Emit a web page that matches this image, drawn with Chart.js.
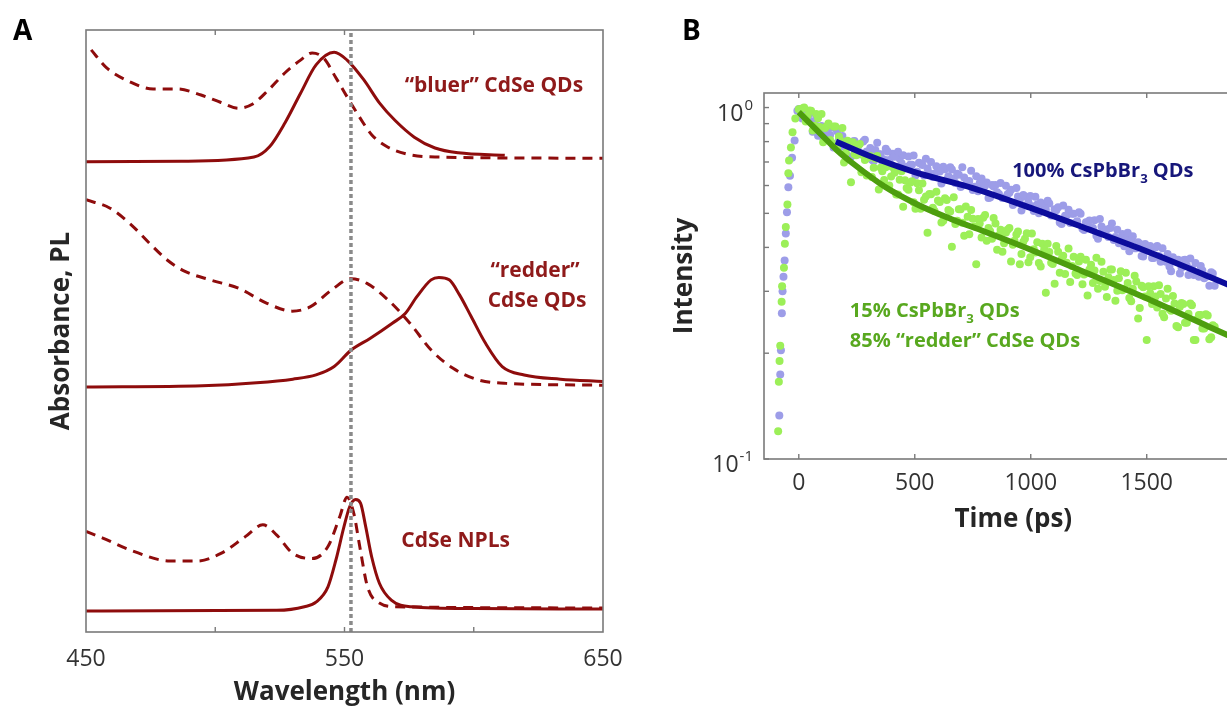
<!DOCTYPE html>
<html>
<head>
<meta charset="utf-8">
<script src="https://cdn.jsdelivr.net/npm/chart.js@4.4.1/dist/chart.umd.min.js"></script>
<style>
  html, body { margin: 0; padding: 0; background: #fff; overflow: hidden; width: 1227px; height: 708px; }
  #wrapA { position: absolute; left: 0; top: 0; }
  #wrapB { position: absolute; left: 660px; top: 0; }
</style>
</head>
<body>
<div id="wrapA"><canvas id="chartA" width="640" height="708"></canvas></div>
<div id="wrapB"><canvas id="chartB" width="640" height="540"></canvas></div>
<script>
// ---------- panel A : spectra (stacked, arbitrary units 0-10) ----------
const wavelengthTicks = [450, 500, 550, 600, 650];
const wavelengthLabels = [450, 550, 650];
const markerWavelength = 552.5;

const bluerAbsNm = [452, 458, 467, 476, 485.5, 494.5, 502, 509, 514.5, 520.5, 527, 533, 537.5, 542, 546.5, 551, 556, 560.5, 566.5, 574, 585, 650];
const bluerAbs   = [9.67, 9.37, 9.14, 9.02, 9.02, 8.92, 8.80, 8.70, 8.77, 9.00, 9.29, 9.50, 9.62, 9.53, 9.22, 8.89, 8.54, 8.26, 8.06, 7.94, 7.89, 7.87];
const bluerPlNm  = [450, 487, 515, 521, 527, 533, 539, 546, 551, 557.5, 563.5, 569.5, 577, 585, 594, 612];
const bluerPl    = [7.81, 7.82, 7.89, 8.06, 8.46, 8.95, 9.42, 9.63, 9.50, 9.17, 8.79, 8.50, 8.22, 8.04, 7.96, 7.92];

const redderAbsNm = [450, 459.3, 467.6, 474.5, 481.4, 488.3, 498, 509, 520, 529.7, 536.7, 545, 552.5, 558.7, 567, 575.3, 583.6, 592, 601.6, 612.6, 650];
const redderAbs   = [7.18, 7.04, 6.76, 6.46, 6.18, 5.99, 5.85, 5.71, 5.46, 5.33, 5.40, 5.68, 5.87, 5.79, 5.51, 5.13, 4.68, 4.38, 4.19, 4.13, 4.10];
const redderPlNm  = [450, 495, 516, 530, 539, 546, 552.5, 560, 568.5, 573.5, 578, 583.5, 586.5, 590.5, 594.5, 599, 604.5, 611, 619.5, 633.5, 650];
const redderPl    = [4.07, 4.09, 4.14, 4.20, 4.27, 4.41, 4.68, 4.88, 5.13, 5.29, 5.57, 5.85, 5.89, 5.85, 5.60, 5.24, 4.80, 4.41, 4.27, 4.20, 4.16];

const nplAbsNm = [450, 456.5, 467.2, 482.5, 493.2, 502.4, 511.5, 518.4, 523.8, 529.9, 537.5, 543.6, 548.2, 551, 553.6, 555.9, 558.9, 563.5, 569.6, 650];
const nplAbs   = [1.67, 1.56, 1.36, 1.18, 1.18, 1.31, 1.58, 1.78, 1.61, 1.31, 1.22, 1.42, 1.92, 2.24, 1.97, 1.42, 0.75, 0.48, 0.42, 0.40];
const nplPlNm  = [450, 523.8, 534.5, 539.1, 543.6, 546.7, 549.8, 552, 554.3, 556.2, 558.2, 560.5, 563.5, 568.1, 575.7, 600.2, 650];
const nplPl    = [0.35, 0.36, 0.42, 0.50, 0.75, 1.20, 1.75, 2.08, 2.20, 2.14, 1.75, 1.25, 0.81, 0.53, 0.42, 0.39, 0.38];

// ---------- panel B : time-resolved PL ----------
const timeTicks = [0, 500, 1000, 1500, 2000];
const intensityTicks = [0.1, 0.2, 0.3, 0.4, 0.5, 0.6, 0.7, 0.8, 0.9, 1];

const blueRiseT = [-84, -80, -77, -73, -70, -66, -61, -56, -51, -45, -38, -29, -18, -6];
const blueRiseI = [0.133, 0.174, 0.204, 0.26, 0.30, 0.33, 0.367, 0.438, 0.504, 0.593, 0.64, 0.72, 0.806, 0.98];
const greenRiseT = [-89, -86, -83, -80, -74, -72, -64, -60, -56, -49, -45, -42, -34, -27, -15];
const greenRiseI = [0.12, 0.166, 0.19, 0.21, 0.28, 0.31, 0.35, 0.41, 0.457, 0.53, 0.65, 0.707, 0.77, 0.85, 0.93];

const decayTimes = [
  0, 15, 30, 45, 60, 75, 90, 105, 120, 135, 150, 165, 180, 195, 210, 225, 240, 255, 270, 285,
  300, 315, 330, 345, 360, 375, 390, 405, 420, 435, 450, 465, 480, 495, 510, 525, 540, 555, 570, 585,
  600, 615, 630, 645, 660, 675, 690, 705, 720, 735, 750, 765, 780, 795, 810, 825, 840, 855, 870, 885,
  900, 915, 930, 945, 960, 975, 990, 1005, 1020, 1035, 1050, 1065, 1080, 1095, 1110, 1125, 1140, 1155, 1170, 1185,
  1200, 1215, 1230, 1245, 1260, 1275, 1290, 1305, 1320, 1335, 1350, 1365, 1380, 1395, 1410, 1425, 1440, 1455, 1470, 1485,
  1500, 1515, 1530, 1545, 1560, 1575, 1590, 1605, 1620, 1635, 1650, 1665, 1680, 1695, 1710, 1725, 1740, 1755, 1770, 1785
];
const decayTimes2 = [
  8, 23, 38, 53, 68, 83, 98, 113, 128, 143, 158, 173, 188, 203, 218, 233, 248, 263, 278, 293,
  308, 323, 338, 353, 368, 383, 398, 413, 428, 443, 458, 473, 488, 503, 518, 533, 548, 563, 578, 593,
  608, 623, 638, 653, 668, 683, 698, 713, 728, 743, 758, 773, 788, 803, 818, 833, 848, 863, 878, 893,
  908, 923, 938, 953, 968, 983, 998, 1013, 1028, 1043, 1058, 1073, 1088, 1103, 1118, 1133, 1148, 1163, 1178, 1193,
  1208, 1223, 1238, 1253, 1268, 1283, 1298, 1313, 1328, 1343, 1358, 1373, 1388, 1403, 1418, 1433, 1448, 1463, 1478, 1493,
  1508, 1523, 1538, 1553, 1568, 1583, 1598, 1613, 1628, 1643, 1658, 1673, 1688, 1703, 1718, 1733, 1748, 1763, 1778, 1793
];
const blueDecay = [
  0.990, 0.931, 0.977, 0.919, 0.854, 0.928, 0.860, 0.820, 0.863, 0.836, 0.770, 0.856, 0.798, 0.774, 0.798, 0.724, 0.803, 0.775, 0.740, 0.810,
  0.745, 0.710, 0.757, 0.737, 0.703, 0.764, 0.709, 0.739, 0.671, 0.715, 0.731, 0.677, 0.687, 0.730, 0.657, 0.693, 0.641, 0.671, 0.700, 0.648,
  0.664, 0.608, 0.668, 0.638, 0.666, 0.610, 0.644, 0.676, 0.604, 0.618, 0.583, 0.638, 0.610, 0.587, 0.612, 0.555, 0.596, 0.574, 0.610, 0.554,
  0.567, 0.584, 0.534, 0.558, 0.509, 0.558, 0.538, 0.524, 0.557, 0.500, 0.531, 0.512, 0.533, 0.494, 0.510, 0.471, 0.526, 0.493, 0.469, 0.499,
  0.475, 0.499, 0.448, 0.472, 0.454, 0.478, 0.423, 0.459, 0.445, 0.428, 0.468, 0.428, 0.411, 0.437, 0.423, 0.390, 0.430, 0.398, 0.410, 0.377,
  0.392, 0.404, 0.373, 0.404, 0.364, 0.371, 0.383, 0.342, 0.368, 0.369, 0.350, 0.369, 0.334, 0.347, 0.361, 0.330, 0.344, 0.331, 0.311, 0.337
];
const blueDecay2 = [
  0.941, 0.988, 0.921, 0.965, 0.908, 0.831, 0.886, 0.845, 0.813, 0.877, 0.778, 0.808, 0.830, 0.735, 0.791, 0.801, 0.757, 0.737, 0.800, 0.750,
  0.767, 0.703, 0.794, 0.737, 0.711, 0.750, 0.687, 0.725, 0.748, 0.694, 0.675, 0.726, 0.687, 0.641, 0.697, 0.686, 0.715, 0.651, 0.634, 0.681,
  0.658, 0.679, 0.623, 0.676, 0.628, 0.648, 0.594, 0.632, 0.616, 0.661, 0.595, 0.578, 0.628, 0.599, 0.553, 0.602, 0.602, 0.568, 0.553, 0.599,
  0.572, 0.528, 0.590, 0.547, 0.564, 0.526, 0.560, 0.508, 0.530, 0.537, 0.511, 0.543, 0.493, 0.514, 0.520, 0.466, 0.492, 0.512, 0.499, 0.470,
  0.504, 0.452, 0.472, 0.477, 0.454, 0.432, 0.482, 0.446, 0.450, 0.454, 0.420, 0.449, 0.420, 0.403, 0.440, 0.419, 0.398, 0.414, 0.378, 0.409,
  0.392, 0.373, 0.400, 0.378, 0.398, 0.364, 0.353, 0.375, 0.368, 0.337, 0.368, 0.355, 0.372, 0.334, 0.338, 0.354, 0.327, 0.331, 0.340, 0.311
];
const greenDecay = [
  0.989, 0.993, 0.912, 0.981, 0.860, 0.959, 0.881, 0.797, 0.884, 0.809, 0.883, 0.763, 0.804, 0.698, 0.805, 0.613, 0.738, 0.781, 0.654, 0.709,
  0.721, 0.634, 0.715, 0.585, 0.659, 0.676, 0.600, 0.676, 0.566, 0.623, 0.522, 0.590, 0.611, 0.538, 0.609, 0.515, 0.547, 0.440, 0.567, 0.508,
  0.544, 0.471, 0.552, 0.511, 0.402, 0.466, 0.514, 0.470, 0.523, 0.436, 0.483, 0.358, 0.468, 0.486, 0.418, 0.445, 0.485, 0.394, 0.449, 0.411,
  0.449, 0.365, 0.418, 0.444, 0.383, 0.423, 0.363, 0.438, 0.387, 0.361, 0.410, 0.297, 0.388, 0.359, 0.404, 0.339, 0.379, 0.362, 0.319, 0.376,
  0.334, 0.376, 0.335, 0.292, 0.357, 0.344, 0.305, 0.364, 0.309, 0.329, 0.346, 0.282, 0.327, 0.302, 0.339, 0.287, 0.305, 0.320, 0.269, 0.308,
  0.218, 0.296, 0.310, 0.270, 0.295, 0.253, 0.305, 0.264, 0.277, 0.237, 0.278, 0.244, 0.259, 0.274, 0.218, 0.257, 0.235, 0.258, 0.219, 0.240
];
const greenDecay2 = [
  0.990, 1.000, 0.949, 0.980, 0.887, 0.932, 0.959, 0.874, 0.901, 0.793, 0.883, 0.827, 0.875, 0.744, 0.797, 0.797, 0.731, 0.788, 0.731, 0.641,
  0.728, 0.674, 0.728, 0.674, 0.622, 0.682, 0.636, 0.652, 0.566, 0.659, 0.621, 0.584, 0.617, 0.515, 0.582, 0.608, 0.558, 0.568, 0.519, 0.576,
  0.539, 0.476, 0.546, 0.506, 0.556, 0.476, 0.514, 0.432, 0.489, 0.511, 0.459, 0.482, 0.427, 0.495, 0.454, 0.423, 0.468, 0.433, 0.389, 0.441,
  0.454, 0.407, 0.435, 0.358, 0.415, 0.439, 0.375, 0.395, 0.414, 0.353, 0.395, 0.410, 0.362, 0.315, 0.389, 0.371, 0.336, 0.397, 0.354, 0.337,
  0.365, 0.314, 0.369, 0.346, 0.317, 0.374, 0.321, 0.341, 0.289, 0.346, 0.323, 0.301, 0.342, 0.305, 0.317, 0.281, 0.332, 0.251, 0.311, 0.290,
  0.310, 0.276, 0.290, 0.312, 0.259, 0.286, 0.267, 0.291, 0.239, 0.271, 0.276, 0.244, 0.277, 0.218, 0.250, 0.257, 0.235, 0.256, 0.222, 0.238
];

const blueFitT = [160, 300, 500, 750, 1000, 1250, 1500, 1770, 2000];
const blueFitI = [0.800, 0.730, 0.655, 0.590, 0.518, 0.450, 0.390, 0.330, 0.285];
const greenFitT = [0, 97, 166, 235, 373, 511, 656, 800, 939, 1215, 1491, 1768, 2000];
const greenFitI = [0.970, 0.838, 0.755, 0.692, 0.594, 0.530, 0.482, 0.444, 0.409, 0.344, 0.288, 0.238, 0.203];

// ---------- styles ----------
const RED = '#8e0c0c';
const RED_TEXT = '#8f1a1a';
const AXIS_GREY = '#7a7a7a';
const TEXT_DARK = '#262626';
const FONT = '"Open Sans", "Noto Sans", sans-serif';

Chart.defaults.font.family = FONT;
Chart.defaults.color = TEXT_DARK;

const pts = (xs, ys) => xs.map((x, i) => ({ x: x, y: ys[i] }));

function spectrum(xs, ys, dashed) {
  return {
    data: pts(xs, ys),
    showLine: true,
    borderColor: RED,
    borderWidth: 3,
    borderDash: dashed ? [10, 7] : [],
    pointRadius: 0,
    cubicInterpolationMode: 'monotone',
    order: 1,
  };
}

function drawFrame(ctx, area) {
  ctx.save();
  ctx.strokeStyle = AXIS_GREY;
  ctx.lineWidth = 1.6;
  ctx.strokeRect(area.left, area.top, area.right - area.left, area.bottom - area.top);
  ctx.restore();
}

function drawRich(ctx, parts, x, y, size, color) {
  ctx.save();
  ctx.fillStyle = color;
  ctx.textBaseline = 'alphabetic';
  ctx.textAlign = 'left';
  let cx = x;
  parts.forEach(([txt, kind]) => {
    const s = kind ? size * 0.66 : size;
    ctx.font = `bold ${s}px ${FONT}`;
    const dy = kind === 'sub' ? size * 0.28 : (kind === 'sup' ? -size * 0.45 : 0);
    ctx.fillText(txt, cx, y + dy);
    cx += ctx.measureText(txt).width;
  });
  ctx.restore();
}

const panelAPlugin = {
  id: 'panelA',
  afterDatasetsDraw(chart) {
    const { ctx, chartArea: a, scales: { x, y } } = chart;
    drawFrame(ctx, a);
    ctx.save();
    ctx.strokeStyle = AXIS_GREY;
    ctx.lineWidth = 1.4;
    wavelengthTicks.slice(1, -1).forEach(v => {
      const px = x.getPixelForValue(v);
      ctx.beginPath();
      ctx.moveTo(px, a.bottom); ctx.lineTo(px, a.bottom - 5);
      ctx.moveTo(px, a.top); ctx.lineTo(px, a.top + 5);
      ctx.stroke();
    });
    ctx.restore();

    ctx.save();
    ctx.fillStyle = RED_TEXT;
    ctx.font = `bold 21px ${FONT}`;
    ctx.textAlign = 'center';
    ctx.textBaseline = 'alphabetic';
    ctx.fillText('\u201cbluer\u201d CdSe QDs', x.getPixelForValue(607.8), y.getPixelForValue(8.97));
    ctx.fillText('\u201credder\u201d', x.getPixelForValue(623.7), y.getPixelForValue(5.90));
    ctx.fillText('CdSe QDs', x.getPixelForValue(624.5), y.getPixelForValue(5.40));
    ctx.fillText('CdSe NPLs', x.getPixelForValue(593), y.getPixelForValue(1.41));
    ctx.restore();

    ctx.save();
    ctx.fillStyle = '#000';
    ctx.font = `bold 28px ${FONT}`;
    ctx.fillText('A', 13, 40);
    ctx.restore();
  }
};

new Chart(document.getElementById('chartA'), {
  type: 'scatter',
  data: {
    datasets: [
      {
        data: [{ x: markerWavelength, y: 0 }, { x: markerWavelength, y: 10 }],
        showLine: true, borderColor: '#8a8a8a', borderWidth: 3.5, borderDash: [4, 3], pointRadius: 0, order: 0,
      },
      spectrum(bluerPlNm, bluerPl, false),
      spectrum(bluerAbsNm, bluerAbs, true),
      spectrum(redderPlNm, redderPl, false),
      spectrum(redderAbsNm, redderAbs, true),
      spectrum(nplPlNm, nplPl, false),
      spectrum(nplAbsNm, nplAbs, true),
    ]
  },
  options: {
    responsive: false,
    animation: false,
    layout: { padding: { top: 30, right: 37, left: 0, bottom: 0 } },
    plugins: { legend: { display: false }, tooltip: { enabled: false } },
    scales: {
      x: {
        type: 'linear', min: 450, max: 650,
        grid: { display: false, drawTicks: false },
        border: { display: false },
        afterBuildTicks: s => { s.ticks = wavelengthTicks.map(v => ({ value: v })); },
        ticks: {
          autoSkip: false, maxRotation: 0, padding: 14,
          font: { size: 23 }, color: '#333',
          callback: v => wavelengthLabels.includes(v) ? String(v) : ''
        },
        title: { display: true, text: 'Wavelength (nm)', font: { size: 26, weight: 'bold' }, color: TEXT_DARK, padding: { top: 0, bottom: 0 } },
        afterFit: s => { s.height = 76; }
      },
      y: {
        min: 0, max: 10,
        grid: { display: false, drawTicks: false },
        border: { display: false },
        ticks: { display: false },
        title: { display: true, text: 'Absorbance, PL', font: { size: 26, weight: 'bold' }, color: TEXT_DARK, padding: { top: 46, bottom: 0 } },
        afterFit: s => { s.width = 86; }
      }
    }
  },
  plugins: [panelAPlugin]
});

// ---------- panel B ----------
const panelBPlugin = {
  id: 'panelB',
  afterDatasetsDraw(chart) {
    const { ctx, chartArea: a, scales: { x, y } } = chart;
    drawFrame(ctx, a);
    ctx.save();
    ctx.strokeStyle = AXIS_GREY;
    ctx.lineWidth = 1.4;
    timeTicks.forEach(v => {
      const px = x.getPixelForValue(v);
      ctx.beginPath();
      ctx.moveTo(px, a.bottom); ctx.lineTo(px, a.bottom - 5);
      ctx.moveTo(px, a.top); ctx.lineTo(px, a.top + 5);
      ctx.stroke();
    });
    intensityTicks.forEach(v => {
      const py = y.getPixelForValue(v);
      ctx.beginPath();
      ctx.moveTo(a.left, py); ctx.lineTo(a.left + 5, py);
      ctx.stroke();
    });
    ctx.restore();

    // decade labels with superscripts
    [[1, '0'], [0.1, '-1']].forEach(([v, exp]) => {
      const py = y.getPixelForValue(v);
      ctx.save();
      ctx.fillStyle = '#333';
      ctx.textBaseline = 'alphabetic';
      ctx.textAlign = 'right';
      ctx.font = `15px ${FONT}`;
      const ew = ctx.measureText(exp).width;
      const right = a.left - 11;
      ctx.fillText(exp, right, py + 2);
      ctx.font = `23px ${FONT}`;
      ctx.fillText('10', right - ew - 1, py + 13);
      ctx.restore();
    });

    drawRich(ctx, [['100% CsPbBr', 0], ['3', 'sub'], [' QDs', 0]], x.getPixelForValue(920), y.getPixelForValue(0.633), 20, '#16167a');
    drawRich(ctx, [['15% CsPbBr', 0], ['3', 'sub'], [' QDs', 0]], x.getPixelForValue(220), y.getPixelForValue(0.253), 20, '#58a81f');
    drawRich(ctx, [['85% \u201credder\u201d CdSe QDs', 0]], x.getPixelForValue(220), y.getPixelForValue(0.208), 20, '#58a81f');

    ctx.save();
    ctx.fillStyle = '#000';
    ctx.font = `bold 28px ${FONT}`;
    ctx.fillText('B', 22, 40);
    ctx.restore();
  }
};

const BLUE_PTS = '#9d9de8';
const GREEN_PTS = '#9cef58';

new Chart(document.getElementById('chartB'), {
  type: 'scatter',
  data: {
    datasets: [
      {
        data: pts(blueRiseT.concat(decayTimes), blueRiseI.concat(blueDecay)).concat(pts(decayTimes2, blueDecay2)),
        backgroundColor: BLUE_PTS, borderWidth: 0, pointRadius: 4, order: 4,
      },
      {
        data: pts(greenRiseT.concat(decayTimes), greenRiseI.concat(greenDecay)).concat(pts(decayTimes2, greenDecay2)),
        backgroundColor: GREEN_PTS, borderWidth: 0, pointRadius: 4, order: 3,
      },
      {
        data: pts(blueFitT, blueFitI),
        showLine: true, borderColor: '#0c0c9c', borderWidth: 6, pointRadius: 0, cubicInterpolationMode: 'monotone', order: 2,
      },
      {
        data: pts(greenFitT, greenFitI),
        showLine: true, borderColor: '#4d9e0e', borderWidth: 6, pointRadius: 0, cubicInterpolationMode: 'monotone', order: 1,
      },
    ]
  },
  options: {
    responsive: false,
    animation: false,
    layout: { padding: { top: 93, right: 17, left: 0, bottom: 0 } },
    plugins: { legend: { display: false }, tooltip: { enabled: false } },
    scales: {
      x: {
        type: 'linear', min: -150, max: 2000,
        grid: { display: false, drawTicks: false },
        border: { display: false },
        afterBuildTicks: s => { s.ticks = timeTicks.map(v => ({ value: v })); },
        ticks: {
          autoSkip: false, maxRotation: 0, padding: 11,
          font: { size: 23 }, color: '#333',
          callback: v => String(v)
        },
        title: { display: true, text: 'Time (ps)', font: { size: 26, weight: 'bold' }, color: TEXT_DARK, padding: { top: 0, bottom: 5 } },
        afterFit: s => { s.height = 81; }
      },
      y: {
        type: 'logarithmic', min: 0.1, max: 1.1,
        grid: { display: false, drawTicks: false },
        border: { display: false },
        ticks: { display: false },
        title: { display: true, text: 'Intensity', font: { size: 26, weight: 'bold' }, color: TEXT_DARK, padding: { top: 9, bottom: 0 } },
        afterFit: s => { s.width = 104; }
      }
    }
  },
  plugins: [panelBPlugin]
});
</script>
</body>
</html>
